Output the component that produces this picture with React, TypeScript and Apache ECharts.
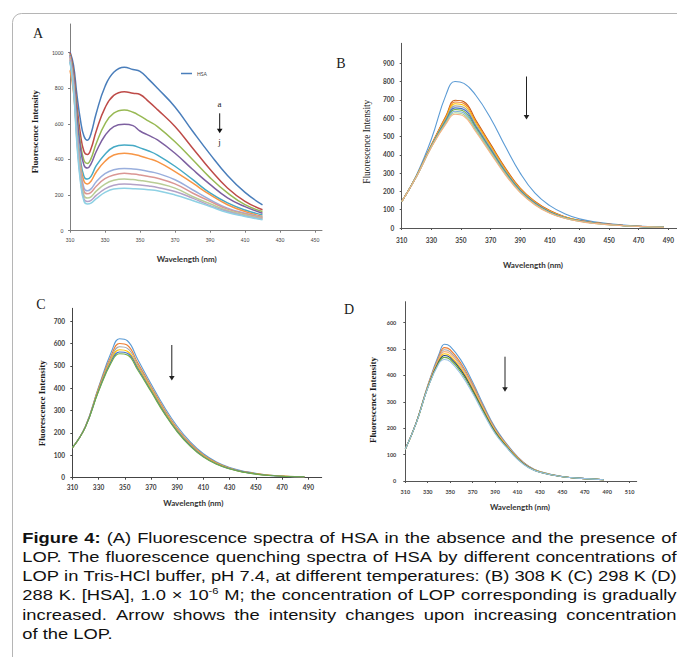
import React, { useEffect, useRef } from "react";
import * as echarts from "echarts";

// ---------- Panel A (HSA with increasing LOP, a -> j) ----------
const A_X = [310, 312, 314, 316, 318, 320, 322, 325, 330, 335, 341, 346, 350, 355, 360, 370, 380, 390, 400, 410, 420];
const A_HSA = [1005, 930, 760, 620, 530, 508, 545, 660, 810, 890, 918, 905, 895, 850, 800, 695, 560, 430, 310, 215, 145];
const A_B = [1000, 900, 700, 540, 445, 428, 460, 560, 690, 760, 781, 772, 765, 725, 680, 585, 465, 345, 240, 165, 118];
const A_C = [990, 880, 660, 490, 395, 378, 405, 490, 600, 660, 678, 665, 645, 615, 585, 500, 400, 298, 212, 146, 108];
const A_D = [985, 870, 640, 465, 368, 352, 375, 445, 535, 585, 598, 590, 560, 535, 510, 435, 345, 260, 185, 135, 98];
const A_E = [950, 820, 580, 400, 305, 290, 305, 365, 430, 470, 482, 478, 465, 448, 425, 362, 288, 212, 156, 116, 88];
const A_F = [900, 780, 540, 370, 278, 263, 278, 330, 390, 425, 435, 430, 420, 405, 388, 332, 268, 202, 146, 108, 80];
const A_G = [980, 840, 560, 350, 240, 224, 235, 275, 320, 342, 350, 347, 342, 333, 322, 286, 230, 174, 127, 98, 76];
const A_H = [975, 830, 540, 330, 222, 207, 215, 250, 292, 313, 322, 318, 313, 305, 295, 263, 212, 165, 121, 95, 72];
const A_I = [965, 815, 520, 305, 198, 183, 190, 222, 262, 283, 290, 287, 282, 275, 266, 239, 192, 151, 113, 89, 68];
const A_J = [960, 800, 500, 285, 178, 164, 170, 198, 235, 255, 262, 260, 257, 251, 243, 220, 183, 141, 108, 83, 65];
const A_K = [950, 790, 480, 270, 165, 150, 155, 180, 215, 234, 238, 236, 234, 230, 225, 201, 170, 136, 102, 80, 61];
const A_SERIES = [A_HSA, A_B, A_C, A_D, A_E, A_F, A_G, A_H, A_I, A_J, A_K];
const A_COLORS = ["#4A7EBB", "#BE4B48", "#98B954", "#7D60A0", "#46AAC5", "#F79646", "#9AAFDD", "#DA9694", "#B9CD96", "#B3A2C7", "#8ED1E4"];
const A_XTICKS = [310, 330, 350, 370, 390, 410, 430, 450];
const A_YTICKS = [0, 200, 400, 600, 800, 1000];

// ---------- Panel B (308 K) ----------
const B_X = [310, 320, 330, 340, 346, 352, 360, 370, 380, 390, 400, 410, 420, 430, 440, 460, 487];
const B_1 = [144, 290, 485, 730, 800, 790, 725, 600, 445, 300, 190, 122, 78, 50, 34, 16, 5];
const B_2 = [144, 285, 455, 615, 698, 690, 590, 458, 328, 218, 145, 95, 62, 42, 29, 14, 5];
const B_3 = [144, 284, 453, 609, 688, 680, 582, 452, 323, 215, 143, 93, 61, 41, 28, 14, 5];
const B_4 = [144, 284, 451, 604, 679, 670, 574, 446, 318, 212, 140, 91, 60, 40, 28, 13, 5];
const B_5 = [144, 283, 449, 597, 667, 658, 564, 438, 313, 208, 137, 89, 58, 40, 27, 13, 5];
const B_6 = [144, 282, 447, 591, 656, 647, 555, 431, 307, 205, 135, 87, 57, 39, 27, 13, 5];
const B_7 = [144, 282, 445, 585, 647, 637, 548, 425, 303, 202, 132, 85, 56, 38, 26, 12, 4];
const B_8 = [144, 281, 443, 580, 638, 628, 540, 419, 298, 199, 130, 83, 55, 37, 26, 12, 4];
const B_9 = [144, 281, 442, 575, 630, 619, 533, 413, 294, 196, 128, 82, 54, 37, 25, 12, 4];
const B_10 = [144, 280, 440, 570, 621, 610, 526, 408, 290, 193, 126, 80, 53, 36, 25, 12, 4];
const B_SERIES = [B_1, B_2, B_3, B_4, B_5, B_6, B_7, B_8, B_9, B_10];
const B_COLORS = ["#5B9BD5", "#C55A11", "#ED7D31", "#FFC000", "#A5A5A5", "#4472C4", "#70AD47", "#7CAFDD", "#A9D18E", "#F4B183"];
const B_XTICKS = [310, 330, 350, 370, 390, 410, 430, 450, 470, 490];
const B_YTICKS = [0, 100, 200, 300, 400, 500, 600, 700, 800, 900];

// ---------- Panel C (298 K) ----------
const C_X = [310, 320, 330, 340, 346, 352, 360, 370, 380, 390, 400, 410, 420, 430, 440, 460, 487];
const C_1 = [133, 230, 405, 565, 621, 612, 527, 420, 318, 230, 160, 107, 70, 45, 30, 12, 4];
const C_2 = [133, 229, 400, 550, 600, 592, 512, 409, 308, 221, 153, 102, 67, 43, 28, 11, 4];
const C_3 = [133, 228, 396, 540, 585, 578, 503, 403, 302, 216, 149, 99, 65, 42, 27, 11, 4];
const C_4 = [133, 227, 392, 532, 572, 565, 494, 396, 297, 212, 146, 97, 63, 41, 26, 11, 4];
const C_5 = [133, 227, 388, 524, 562, 556, 487, 390, 292, 208, 143, 94, 61, 40, 26, 10, 4];
const C_6 = [133, 226, 385, 517, 554, 548, 480, 385, 288, 205, 140, 92, 60, 39, 25, 10, 4];
const C_SERIES = [C_1, C_2, C_3, C_4, C_5, C_6];
const C_COLORS = ["#5B9BD5", "#ED7D31", "#A5A5A5", "#FFC000", "#4472C4", "#70AD47"];
const C_XTICKS = [310, 330, 350, 370, 390, 410, 430, 450, 470, 490];
const C_YTICKS = [0, 100, 200, 300, 400, 500, 600, 700];

// ---------- Panel D (288 K) ----------
const D_X = [310, 320, 330, 340, 345, 350, 360, 370, 380, 390, 400, 410, 420, 430, 450, 470, 487];
const D_1 = [120, 225, 362, 480, 518, 510, 455, 375, 285, 203, 143, 92, 56, 36, 17, 9, 5];
const D_2 = [120, 224, 360, 472, 505, 497, 443, 366, 278, 198, 140, 90, 55, 35, 17, 9, 5];
const D_3 = [120, 224, 358, 467, 497, 489, 436, 360, 274, 195, 138, 88, 54, 35, 17, 9, 5];
const D_4 = [120, 223, 357, 462, 490, 482, 430, 355, 270, 192, 136, 87, 53, 34, 16, 9, 5];
const D_5 = [120, 223, 355, 457, 482, 474, 423, 349, 266, 189, 134, 86, 52, 34, 16, 9, 5];
const D_6 = [120, 223, 354, 453, 475, 467, 417, 344, 262, 186, 132, 85, 52, 33, 16, 9, 5];
const D_7 = [120, 222, 353, 449, 468, 460, 410, 338, 258, 183, 130, 84, 51, 33, 16, 9, 5];
const D_8 = [120, 222, 352, 445, 460, 452, 402, 332, 253, 180, 128, 82, 50, 33, 16, 9, 5];
const D_SERIES = [D_1, D_2, D_3, D_4, D_5, D_6, D_7, D_8];
const D_COLORS = ["#5B9BD5", "#ED7D31", "#A5A5A5", "#F4B183", "#FFC000", "#264478", "#70AD47", "#9DC3E6"];
const D_XTICKS = [310, 330, 350, 370, 390, 410, 430, 450, 470, 490, 510];
const D_YTICKS = [0, 100, 200, 300, 400, 500, 600];

// ---------- Texts ----------
const X_TITLE = "Wavelength (nm)";
const Y_TITLE = "Fluorescence Intensity";
const LEGEND_NAME = "HSA";
const CAPTION_LINES = [
  "Figure 4: (A) Fluorescence spectra of HSA in the absence and the presence of",
  "LOP. The fluorescence quenching spectra of HSA by different concentrations of",
  "LOP in Tris-HCl buffer, pH 7.4, at different temperatures: (B) 308 K (C) 298 K (D)",
  "288 K. [HSA], 1.0 × 10^-6 M; the concentration of LOP corresponding is gradually",
  "increased. Arrow shows the intensity changes upon increasing concentration",
  "of the LOP.",
];

const W = 677;
const H = 657;
const SERIF = '"Liberation Serif", "Times New Roman", serif';
const SANS = '"Liberation Sans", Arial, sans-serif';
const LABEL_FONT = "Lato, sans-serif";

function pts(xs: number[], ys: number[]) {
  return xs.map((x, i) => [x, ys[i]]);
}

function axisCommon(ticks: number[], fs: number, margin: number, color: string, bold: boolean) {
  return {
    axisLine: { show: true, onZero: false, lineStyle: { color, width: 1 } },
    axisTick: { show: true, length: 2, customValues: ticks, lineStyle: { color } },
    axisLabel: {
      customValues: ticks,
      fontSize: fs,
      margin,
      color: "#404040",
      fontWeight: bold ? "bold" : "normal",
      fontFamily: LABEL_FONT,
      formatter: (v: number) => String(v),
    },
    splitLine: { show: false },
  };
}

function xAxis(gi: number, max: number, ticks: number[], fs: number, margin: number, color: string, bold: boolean) {
  return { type: "value", gridIndex: gi, min: 310, max, ...axisCommon(ticks, fs, margin, color, bold) };
}

function yAxis(gi: number, max: number, ticks: number[], fs: number, margin: number, color: string, bold: boolean) {
  return { type: "value", gridIndex: gi, min: 0, max, ...axisCommon(ticks, fs, margin, color, bold) };
}

function panelSeries(gi: number, xs: number[], list: number[][], colors: string[], width: number, firstName?: string) {
  return list.map((ys, i) => ({
    type: "line",
    name: i === 0 && firstName ? firstName : `p${gi}s${i}`,
    xAxisIndex: gi,
    yAxisIndex: gi,
    data: pts(xs, ys),
    symbol: "none",
    smooth: 0.45,
    silent: true,
    color: colors[i],
    lineStyle: { color: colors[i], width },
  }));
}

function text(x: number, y: number, t: string, style: any, extra: any = {}) {
  return {
    type: "text",
    x,
    y,
    silent: true,
    style: { text: t, fill: "#1a1a1a", align: "center", verticalAlign: "middle", ...style },
    ...extra,
  };
}

function arrow(x: number, y1: number, y2: number, color: string) {
  return [
    { type: "line", silent: true, shape: { x1: x, y1, x2: x, y2: y2 - 3 }, style: { stroke: color, lineWidth: 1 } },
    {
      type: "polygon",
      silent: true,
      shape: { points: [[x - 2.8, y2 - 4.5], [x + 2.8, y2 - 4.5], [x, y2]] },
      style: { fill: color },
    },
  ];
}

function buildCaption() {
  const canvas = document.createElement("canvas");
  const ctx = canvas.getContext("2d") as CanvasRenderingContext2D;
  const fs = 15.5;
  const supFs = 9.5;
  const measure = (t: string, bold = false, size = fs) => {
    ctx.font = `${bold ? "bold " : ""}${size}px ${SANS}`;
    return ctx.measureText(t).width;
  };
  const left = 22.3;
  const right = 676.5;
  const span = right - left;
  const s = span / measure(CAPTION_LINES[2]);
  const spaceW = measure(" ");
  const groups: any[] = [];
  CAPTION_LINES.forEach((line, li) => {
    const words = line.split(" ");
    const pieces = words.map((w, wi) => {
      const bold = li === 0 && wi < 2;
      if (w.includes("^")) {
        const [b, sup] = w.split("^");
        const wb = measure(b);
        const ws = measure(sup, false, supFs);
        return { w, bold, b, sup, wb, width: wb + ws };
      }
      return { w, bold, width: measure(w, bold) };
    });
    const total = pieces.reduce((a, p) => a + p.width, 0);
    const justify = li < CAPTION_LINES.length - 1;
    const gap = justify ? (span / s - total) / (words.length - 1) : spaceW;
    const y = 537.8 + li * 19.2;
    const children: any[] = [];
    let x = 0;
    pieces.forEach((p: any) => {
      if (p.sup !== undefined) {
        children.push({
          type: "text", x, y, silent: true,
          style: { text: p.b, fontSize: fs, fontFamily: SANS, fill: "#111", align: "left", verticalAlign: "middle" },
        });
        children.push({
          type: "text", x: x + p.wb, y: y - 4.5, silent: true,
          style: { text: p.sup, fontSize: supFs, fontFamily: SANS, fill: "#111", align: "left", verticalAlign: "middle" },
        });
      } else {
        children.push({
          type: "text", x, y, silent: true,
          style: {
            text: p.w, fontSize: fs, fontFamily: SANS, fontWeight: p.bold ? "bold" : "normal",
            fill: "#111", align: "left", verticalAlign: "middle",
          },
        });
      }
      x += p.width + gap;
    });
    groups.push({ type: "group", x: left, y: 0, scaleX: s, children });
  });
  return groups;
}

export default function App() {
  const ref = useRef<HTMLDivElement>(null);
  useEffect(() => {
    const chart = echarts.init(ref.current as HTMLDivElement, null, { renderer: "svg", width: W, height: H });
    const graphic: any[] = [
      {
        type: "rect", silent: true, z: -1,
        shape: { x: 12.5, y: 13.5, width: 720, height: 720, r: 9 },
        style: { fill: "none", stroke: "#b5b5b5", lineWidth: 1 },
      },
      // panel letters
      text(38, 33, "A", { fontFamily: SERIF, fontSize: 14 }),
      text(341, 63.3, "B", { fontFamily: SERIF, fontSize: 14 }),
      text(41, 304.3, "C", { fontFamily: SERIF, fontSize: 14 }),
      text(349, 309.3, "D", { fontFamily: SERIF, fontSize: 14 }),
      // x titles
      text(186.7, 259.3, X_TITLE, { fontFamily: LABEL_FONT, fontWeight: "bold", fontSize: 8, fill: "#333" }),
      text(533, 265, X_TITLE, { fontFamily: LABEL_FONT, fontWeight: "bold", fontSize: 8, fill: "#333" }),
      text(193.3, 502.7, X_TITLE, { fontFamily: LABEL_FONT, fontWeight: "bold", fontSize: 8, fill: "#333" }),
      text(520, 506.7, X_TITLE, { fontFamily: LABEL_FONT, fontWeight: "bold", fontSize: 8, fill: "#333" }),
      // y titles
      text(35, 131.7, Y_TITLE, { fontFamily: SERIF, fontWeight: "bold", fontSize: 8.7 }, { rotation: Math.PI / 2 }),
      text(366.7, 141.7, Y_TITLE, { fontFamily: SERIF, fontSize: 9.3 }, { rotation: Math.PI / 2 }),
      text(41.7, 403.3, Y_TITLE, { fontFamily: SERIF, fontWeight: "bold", fontSize: 9 }, { rotation: Math.PI / 2 }),
      text(373.3, 400, Y_TITLE, { fontFamily: SERIF, fontWeight: "bold", fontSize: 9 }, { rotation: Math.PI / 2 }),
      // arrows
      text(219.4, 104.3, "a", { fontFamily: SERIF, fontSize: 9 }),
      ...arrow(219.7, 113.3, 133.3, "#111"),
      text(219.4, 141.7, "j", { fontFamily: SERIF, fontSize: 9 }),
      ...arrow(526.5, 76.5, 119.5, "#222"),
      ...arrow(171.8, 345, 380.5, "#222"),
      ...arrow(505, 356.7, 391.7, "#222"),
      ...buildCaption(),
    ];

    const option: any = {
      animation: false,
      backgroundColor: "#ffffff",
      legend: {
        data: [{ name: LEGEND_NAME, icon: "rect" }],
        left: 181,
        top: 71,
        padding: 0,
        itemWidth: 11,
        itemHeight: 1.5,
        itemGap: 0,
        textStyle: { fontSize: 5, color: "#444", fontFamily: LABEL_FONT },
      },
      grid: [
        { left: 70, top: 24, width: 252, height: 206.7 },
        { left: 401.7, top: 43.3, width: 275, height: 184.7 },
        { left: 72.3, top: 308.3, width: 249.4, height: 169.4 },
        { left: 405.3, top: 301.7, width: 231.4, height: 179.3 },
      ],
      xAxis: [
        xAxis(0, 454, A_XTICKS, 5, 7, "#7f7f7f", false),
        xAxis(1, 495.6, B_XTICKS, 6.5, 9, "#555", true),
        xAxis(2, 500.2, C_XTICKS, 6.5, 6.5, "#444", true),
        xAxis(3, 516.3, D_XTICKS, 5.5, 8, "#555", true),
      ],
      yAxis: [
        yAxis(0, 1161, A_YTICKS, 5, 6.5, "#7f7f7f", false),
        yAxis(1, 1009, B_YTICKS, 6.5, 7.4, "#555", true),
        yAxis(2, 757, C_YTICKS, 6.5, 7.3, "#444", true),
        yAxis(3, 679, D_YTICKS, 5.5, 9, "#555", true),
      ],
      series: [
        ...panelSeries(0, A_X, A_SERIES, A_COLORS, 1.5, LEGEND_NAME),
        ...panelSeries(1, B_X, B_SERIES, B_COLORS, 1.1),
        ...panelSeries(2, C_X, C_SERIES, C_COLORS, 1.1),
        ...panelSeries(3, D_X, D_SERIES, D_COLORS, 1.1),
      ],
      graphic,
    };
    chart.setOption(option);
    return () => chart.dispose();
  }, []);
  return (
    <div
      ref={ref}
      style={{ position: "absolute", left: 0, top: 0, width: W, height: H, background: "#fff" }}
    />
  );
}
